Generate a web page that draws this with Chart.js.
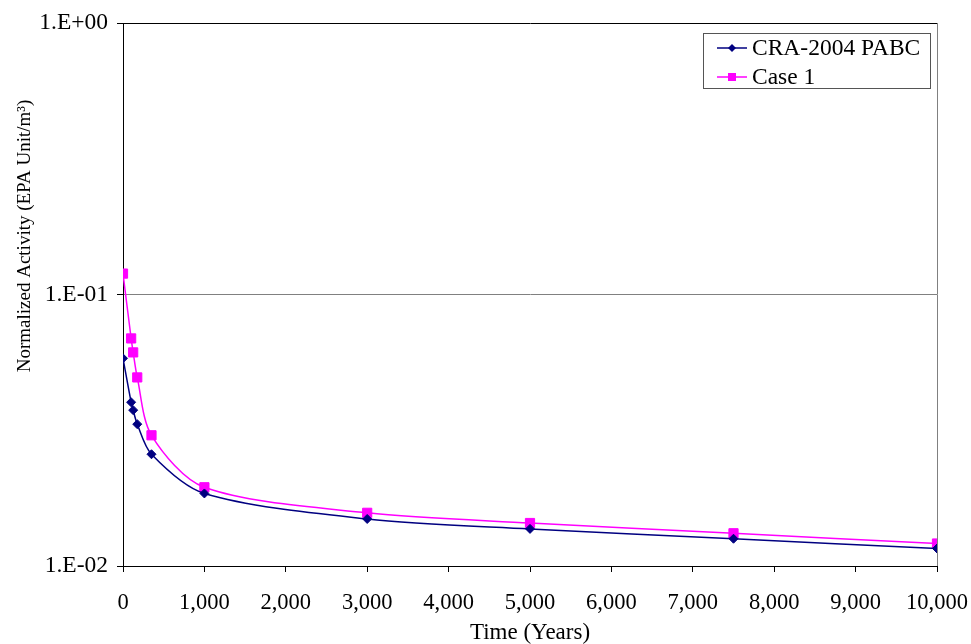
<!DOCTYPE html>
<html>
<head>
<meta charset="utf-8">
<script src="https://cdn.jsdelivr.net/npm/chart.js@4.4.1/dist/chart.umd.min.js"></script>
<style>
  html, body { margin: 0; padding: 0; background: #fff; }
  #wrap { width: 971px; height: 644px; }
</style>
</head>
<body>
<div id="wrap"><canvas id="grafica" width="971" height="644"></canvas></div>
<script>
// Data
const years = [0, 100, 125, 175, 350, 1000, 3000, 5000, 7500, 10000];
const craPabc = [0.0582, 0.0401, 0.0375, 0.0333, 0.0258, 0.0185, 0.0149, 0.0137, 0.0126, 0.0116];
const case1 = [0.1194, 0.0689, 0.0612, 0.0495, 0.0303, 0.0195, 0.0157, 0.0144, 0.0132, 0.0121];
const seriesNames = ["CRA-2004 PABC", "Case 1"];
const yTickValues = [0.01, 0.1, 1];

const serif = "'Liberation Serif', 'Times New Roman', serif";

function toPoints(values) {
    return years.map((yr, i) => ({ x: yr, y: values[i] }));
}

// Excel style labels like 1.E-02
function expLabel(v) {
    const e = Math.round(Math.log10(v));
    const sign = e < 0 ? "-" : "+";
    return "1.E" + sign + String(Math.abs(e)).padStart(2, "0");
}

// legend box, y title and the grey right border
const extras = {
    id: "extras",
    afterDraw(chart) {
        const ctx = chart.ctx;
        const area = chart.chartArea;
        ctx.save();

        // right border of the plot
        ctx.strokeStyle = "#808080";
        ctx.lineWidth = 1;
        ctx.beginPath();
        ctx.moveTo(area.right + 0.5, area.top);
        ctx.lineTo(area.right + 0.5, area.bottom);
        ctx.stroke();

        // y axis title
        ctx.translate(25, 236);
        ctx.rotate(-Math.PI / 2);
        ctx.fillStyle = "#000";
        ctx.font = "19px " + serif;
        ctx.textAlign = "center";
        ctx.textBaseline = "middle";
        ctx.fillText("Normalized Activity (EPA Unit/m³)", 0, 0);
        ctx.restore();

        // legend
        ctx.save();
        const bx = 703, by = 33, bw = 227, bh = 55;
        ctx.fillStyle = "#fff";
        ctx.fillRect(bx, by, bw, bh);
        ctx.strokeStyle = "#555";
        ctx.lineWidth = 1;
        ctx.strokeRect(bx + 0.5, by + 0.5, bw, bh);
        chart.data.datasets.forEach((ds, i) => {
            const cy = by + 15 + i * 29;
            ctx.strokeStyle = ds.borderColor;
            ctx.lineWidth = 1.5;
            ctx.beginPath();
            ctx.moveTo(717, cy);
            ctx.lineTo(747, cy);
            ctx.stroke();
            ctx.fillStyle = ds.borderColor;
            ctx.beginPath();
            if (ds.pointStyle === "rect") {
                ctx.rect(728, cy - 4, 8, 8);
            } else {
                ctx.moveTo(732, cy - 4);
                ctx.lineTo(736, cy);
                ctx.lineTo(732, cy + 4);
                ctx.lineTo(728, cy);
                ctx.closePath();
            }
            ctx.fill();
            ctx.fillStyle = "#000";
            ctx.font = "23.5px " + serif;
            ctx.textAlign = "left";
            ctx.textBaseline = "middle";
            ctx.fillText(ds.label, 752, cy + 1);
        });
        ctx.restore();
    }
};

const grafica = document.getElementById("grafica");
const myChart = new Chart(grafica, {
    type: "line",
    data: {
        datasets: [{
            label: seriesNames[0],
            data: toPoints(craPabc),
            borderColor: "#000080",
            backgroundColor: "#000080",
            borderWidth: 1.5,
            pointStyle: "rectRot",
            pointRadius: 4.5,
            pointBorderWidth: 1,
            tension: 0.3,
        }, {
            label: seriesNames[1],
            data: toPoints(case1),
            borderColor: "#FF00FF",
            backgroundColor: "#FF00FF",
            borderWidth: 1.5,
            pointStyle: "rect",
            pointRadius: 6.5,
            pointBorderWidth: 1,
            tension: 0.3,
        }]
    },
    options: {
        responsive: false,
        animation: false,
        layout: { padding: { top: 23, right: 34, left: 0, bottom: 0 } },
        plugins: {
            legend: { display: false },
            tooltip: { enabled: false },
        },
        scales: {
            x: {
                type: "linear",
                min: 0,
                max: 10000,
                afterFit: (scale) => {
                    scale.height = 78;
                    scale.paddingLeft = 0;
                    scale.paddingRight = 0;
                },
                border: { display: true, color: "#000", width: 1 },
                grid: { drawOnChartArea: false, drawTicks: true, tickLength: 6, tickColor: "#000" },
                ticks: {
                    stepSize: 1000,
                    autoSkip: false,
                    maxRotation: 0,
                    padding: 18,
                    color: "#000",
                    font: { family: serif, size: 22.5 },
                    callback: (v) => Number(v).toLocaleString("en-US"),
                },
                title: {
                    display: true,
                    text: "Time (Years)",
                    color: "#000",
                    font: { family: serif, size: 23, lineHeight: 1.0 },
                    padding: { top: 9, bottom: 0 },
                },
            },
            y: {
                type: "logarithmic",
                min: 0.01,
                max: 1,
                afterFit: (scale) => {
                    scale.width = 123;
                    scale.paddingTop = 0;
                    scale.paddingBottom = 0;
                },
                afterBuildTicks: (scale) => {
                    scale.ticks = yTickValues.map((v) => ({ value: v }));
                },
                border: { display: true, color: "#000", width: 1 },
                grid: {
                    drawTicks: true,
                    tickLength: 6,
                    tickColor: "#000",
                    color: (c) => {
                        if (!c.tick) return "rgba(0,0,0,0)";
                        if (c.tick.value === 1) return "#000";
                        if (c.tick.value === 0.1) return "#808080";
                        return "rgba(0,0,0,0)";
                    },
                },
                ticks: {
                    padding: 9,
                    color: "#000",
                    font: { family: serif, size: 23.5 },
                    callback: (v) => expLabel(v),
                },
            },
        },
    },
    plugins: [extras],
});
</script>
</body>
</html>
